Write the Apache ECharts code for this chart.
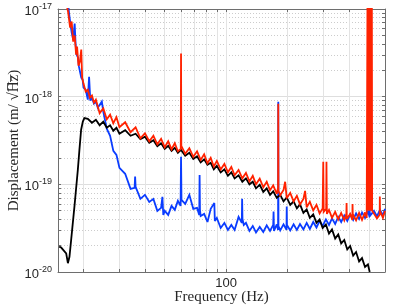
<!DOCTYPE html>
<html><head><meta charset="utf-8">
<script src="https://cdn.jsdelivr.net/npm/echarts@6/dist/echarts.min.js"></script>
<style>html,body{margin:0;padding:0;background:#fff}#c{width:415px;height:307px}</style>
</head><body><div id="c"></div>
<script>
const xTickValues = [20,30,40,50,60,70,80,90,100,200,300,400,500];
const xLabelValues = [100];
const yTickValues = [1e-20,2e-20,3e-20,4e-20,5e-20,6e-20,7e-20,8e-20,9e-20,
  1e-19,2e-19,3e-19,4e-19,5e-19,6e-19,7e-19,8e-19,9e-19,
  1e-18,2e-18,3e-18,4e-18,5e-18,6e-18,7e-18,8e-18,9e-18,1e-17];
const yLabelValues = [1e-20,1e-19,1e-18,1e-17];

const blackF = [15.2,15.55,15.9,16.14,16.45,16.77,17.07,17.4,18.06,18.76,19.1,19.47,19.85,20.2,20.6,
  21,22,23,24,25,26,27,28,29,30,32,34,36,38,40,42,44,46,48,50,52,54,56,58,60,63,66,69,72,75,78,81,84,87,90,
  94,98,102,106,110,115,120,125,130,135,140,146,152,158,164,170,177,184,191,198,206,214,222,230,
  239,248,257,267,277,287,297,308,319,330,342,354,366,379,392,405,419,433,448,463,479,495,505];
const blackV = [1.95e-20,1.9e-20,1.79e-20,1.84e-20,1.63e-20,1.26e-20,1.49e-20,2.32e-20,5.6e-20,1.46e-19,2.47e-19,4.2e-19,5.2e-19,5.7e-19,5.45e-19,
  5.60e-19,5.04e-19,5.46e-19,4.72e-19,5.18e-19,4.42e-19,4.72e-19,4.09e-19,4.42e-19,3.78e-19,
  4.14e-19,3.58e-19,3.78e-19,3.27e-19,3.49e-19,2.98e-19,3.18e-19,2.72e-19,2.94e-19,2.54e-19,2.75e-19,2.41e-19,2.61e-19,2.29e-19,
  2.48e-19,2.12e-19,2.29e-19,1.95e-19,2.09e-19,1.78e-19,1.93e-19,1.67e-19,1.76e-19,1.48e-19,1.63e-19,
  1.37e-19,1.48e-19,1.25e-19,1.37e-19,1.17e-19,1.27e-19,1.07e-19,1.17e-19,1.0e-19,1.07e-19,9.0e-20,
  9.87e-20,8.2e-20,9.0e-20,7.59e-20,8.32e-20,7.0e-20,7.59e-20,6.39e-20,7.10e-20,5.83e-20,6.39e-20,5.32e-20,5.91e-20,
  4.72e-20,5.18e-20,4.14e-20,4.54e-20,3.63e-20,3.98e-20,3.18e-20,
  3.49e-20,2.75e-20,3.06e-20,2.41e-20,2.68e-20,2.12e-20,2.32e-20,1.81e-20,1.98e-20,1.54e-20,1.69e-20,1.32e-20,1.44e-20,1.14e-20,1.22e-20,1.0e-20];

const redF = [16.3,16.8,17.2,17.5,17.8,18.1,18.4,18.6,18.9,19.2,19.5,19.7,20,20.5,21,21.5,22,22.5,23,
  24,25,26,27,28,29,30,32,34,36,38,40,42,44,46,48,50,52,54,56,58,
  59.9,60.1,60.3,
  63,66,69,72,75,78,81,84,87,90,94,98,102,106,110,115,120,125,130,135,140,146,152,158,164,170,177,
  179.6,180,180.4,
  184,191,194.5,198,206,214,222,230,239,243.6,248,257,267,277,287,297,
  299,300.5,309,310,311.5,
  319,330,342,354,366,379,388,389,390,405,415,416,417,433,448,463,479,488,
  493,494,495,496,497,498,499,500,501,502,503,504,505,506,507,508,509,510,511,512,513,514,515,516,517,519,
  530,548,565,566,567,586,600];
const redV = [1.28e-17,9.36e-18,6.14e-18,7.2e-18,4.25e-18,4.98e-18,3.02e-18,3.72e-18,2.26e-18,2.51e-18,3.44e-18,1.65e-18,1.41e-18,1.14e-18,1.2e-18,9.74e-19,1.03e-18,8.54e-19,9.24e-19,
  6.48e-19,7.39e-19,5.53e-19,6.23e-19,4.98e-19,5.83e-19,4.48e-19,5.11e-19,3.93e-19,4.48e-19,3.35e-19,3.83e-19,3.10e-19,3.58e-19,2.86e-19,3.31e-19,2.65e-19,3.10e-19,2.51e-19,2.94e-19,2.38e-19,
  2.54e-19,3.10e-18,2.75e-19,
  2.23e-19,2.58e-19,2.06e-19,2.38e-19,1.90e-19,2.2e-19,1.74e-19,2.01e-19,1.60e-19,1.85e-19,1.48e-19,1.71e-19,1.37e-19,1.58e-19,1.27e-19,1.46e-19,1.17e-19,1.35e-19,1.08e-19,1.25e-19,1.0e-19,1.16e-19,9.24e-20,1.07e-19,8.54e-20,9.74e-20,7.79e-20,
  9.24e-20,8.32e-19,8.43e-20,
  7.49e-20,8.65e-20,1.07e-19,6.92e-20,7.99e-20,6.39e-20,7.39e-20,5.91e-20,6.83e-20,8.43e-20,5.46e-20,6.31e-20,5.04e-20,5.83e-20,4.66e-20,5.32e-20,
  1.81e-19,4.85e-20,5.25e-20,1.81e-19,4.6e-20,
  5.11e-20,4.14e-20,4.85e-20,3.98e-20,4.72e-20,3.88e-20,4.6e-20,6.14e-20,4.02e-20,4.6e-20,3.93e-20,5.98e-20,4.6e-20,3.88e-20,4.72e-20,3.93e-20,4.78e-20,4.14e-20,
  3e-17,5e-20,3e-17,5e-20,3e-17,5e-20,3e-17,5e-20,3e-17,5e-20,3e-17,5e-20,3e-17,5e-20,3e-17,5e-20,3e-17,5e-20,3e-17,5e-20,3e-17,5e-20,3e-17,5e-20,3e-17,5e-20,
  4.85e-20,4.09e-20,4.5e-20,7.25e-20,4.98e-20,4.14e-20,4.98e-20];

const blueF = [16.8,17,17.3,17.5,17.8,18.1,18.3,18.5,18.8,19,19.3,19.5,19.8,20,20.5,21,21.3,21.6,22,22.5,23,23.5,24,24.6,25,
  26,27,28,29,30,32,34,35.6,35.8,36,38,40,42,44,46,48,48.7,49.2,50,52,54,56,58,
  59.8,60.1,60.4,63,66,69,72,73.8,74.1,74.4,75,78,81,84,87.5,88,90,94,98,102,106,110,115,
  119.3,119.7,120.2,122,125,130,135,140,146,152,158,164,170,170.7,171.5,177,179.6,180,180.4,184,191,197.5,198,198.5,
  206,214,222,230,239,248,257,267,277,287,297,308,319,330,342,354,366,379,392,405,419,433,448,463,479,495,
  504.5,505,505.5,512,530,548,567,586,600];
const blueV = [1.19e-17,8.88e-18,6.48e-18,5.39e-18,4.48e-18,6.83e-18,3.93e-18,3.02e-18,2.79e-18,2.20e-18,2.26e-18,1.65e-18,1.56e-18,1.27e-18,1.2e-18,9.24e-19,1.69e-18,9.0e-19,9.74e-19,8.32e-19,8.77e-19,7.49e-19,7.8e-19,8.8e-19,6.74e-19,
  4.31e-19,3.58e-19,2.41e-19,2.17e-19,1.54e-19,1.32e-19,8.88e-20,9.12e-20,1.23e-19,9.36e-20,6.83e-20,7.59e-20,6.31e-20,6.83e-20,4.98e-20,5.39e-20,7.2e-20,4.48e-20,4.98e-20,4.48e-20,5.68e-20,5.11e-20,6.48e-20,
  5.68e-20,2.06e-19,6.65e-20,5.98e-20,7.59e-20,5.25e-20,5.39e-20,4.48e-20,1.28e-19,5.11e-20,4.36e-20,4.6e-20,3.72e-20,5.25e-20,6.14e-20,3.82e-20,4.14e-20,3.18e-20,3.63e-20,3.02e-20,3.44e-20,3.02e-20,4.25e-20,
  3.63e-20,6.83e-20,4.02e-20,3.44e-20,3.63e-20,2.94e-20,3.35e-20,2.83e-20,3.27e-20,2.86e-20,3.40e-20,2.94e-20,3.44e-20,4.89e-20,2.94e-20,3.49e-20,3.02e-20,8.77e-19,3.35e-20,2.98e-20,3.49e-20,3.02e-20,5.6e-20,3.44e-20,
  2.98e-20,3.49e-20,3.02e-20,3.53e-20,3.06e-20,3.63e-20,3.10e-20,3.72e-20,3.22e-20,3.82e-20,3.35e-20,3.98e-20,3.44e-20,4.09e-20,3.53e-20,4.25e-20,3.72e-20,4.42e-20,3.82e-20,4.54e-20,3.93e-20,4.66e-20,4.02e-20,4.78e-20,4.14e-20,4.91e-20,
  4.25e-20,6.14e-20,4.36e-20,4.19e-20,4.98e-20,4.31e-20,5.11e-20,4.42e-20,5.25e-20];

function zip(f, v) { return f.map((x, i) => [x, v[i]]); }

const axisColor = '#6e6e6e';
const labelColor = '#262626';
const chart = echarts.init(document.getElementById('c'), null, {renderer: 'canvas'});
const lineSeries = (name, f, v, color, z) => ({
  name, type: 'line', data: zip(f, v), xAxisIndex: 0, yAxisIndex: 0,
  symbol: 'none', showSymbol: false, clip: true, z,
  lineStyle: {color, width: 1.8, join: 'miter', miterLimit: 3}, emphasis: {disabled: true}
});
chart.setOption({
  animation: false,
  backgroundColor: '#fff',
  grid: {left: 58, right: 30, top: 9, bottom: 35, containLabel: false, outerBoundsMode: 'none'},
  xAxis: [{
    type: 'log', logBase: 10, min: 15, max: 600, position: 'bottom',
    axisLine: {lineStyle: {color: axisColor, width: 1}},
    axisTick: {inside: true, length: 3, customValues: xTickValues, lineStyle: {color: axisColor}},
    axisLabel: {customValues: xLabelValues, formatter: v => String(Math.round(v)), fontSize: 13,
      color: labelColor, margin: 5, fontFamily: 'Liberation Sans'},
    splitLine: {show: true, lineStyle: {color: '#e3e3e3', width: 1}},
    name: 'Frequency (Hz)', nameLocation: 'middle', nameGap: 18, nameMoveOverlap: false,
    nameTextStyle: {fontFamily: 'Liberation Serif', fontSize: 15, color: labelColor}
  }, {
    type: 'log', logBase: 10, min: 15, max: 600, position: 'top',
    axisLine: {lineStyle: {color: axisColor, width: 1}},
    axisTick: {inside: true, length: 3, customValues: xTickValues, lineStyle: {color: axisColor}},
    axisLabel: {show: false}, splitLine: {show: false}
  }],
  yAxis: [{
    type: 'log', logBase: 10, min: 1e-20, max: 1e-17, position: 'left',
    axisLine: {lineStyle: {color: axisColor, width: 1}},
    axisTick: {inside: true, length: 3, customValues: yTickValues, lineStyle: {color: axisColor}},
    axisLabel: {customValues: yLabelValues, margin: 6, padding: [5, 0, 0, 0],
      formatter: v => '{b|10}{s|' + Math.round(Math.log10(v)) + '}',
      rich: {
        b: {fontSize: 13, color: labelColor, fontFamily: 'Liberation Sans'},
        s: {fontSize: 9, color: labelColor, fontFamily: 'Liberation Sans', padding: [0, 0, 10, 0]}
      }},
    splitLine: {show: true, lineStyle: {color: '#cccccc', width: 1, type: [1, 2]}},
    name: 'Displacement (m/ \u221AH\u0305z\u0305)', nameLocation: 'middle', nameGap: 36, nameRotate: 90,
    nameMoveOverlap: false,
    nameTextStyle: {fontFamily: 'Liberation Serif', fontSize: 15, color: labelColor}
  }, {
    type: 'log', logBase: 10, min: 1e-20, max: 1e-17, position: 'right',
    axisLine: {lineStyle: {color: axisColor, width: 1}},
    axisTick: {inside: true, length: 3, customValues: yTickValues, lineStyle: {color: axisColor}},
    axisLabel: {show: false}, splitLine: {show: false}
  }, {
    type: 'log', logBase: 10, min: 1e-20, max: 1e-17, position: 'left',
    axisLine: {show: false}, axisTick: {show: false}, axisLabel: {show: false},
    splitLine: {show: true, lineStyle: {color: '#dedede', width: 1}}
  }],
  series: [
    lineSeries('blue', blueF, blueV, '#0a3cff', 3),
    lineSeries('black', blackF, blackV, '#000000', 4),
    lineSeries('red', redF, redV, '#ff2200', 5)
  ]
});
</script>
</body></html>
